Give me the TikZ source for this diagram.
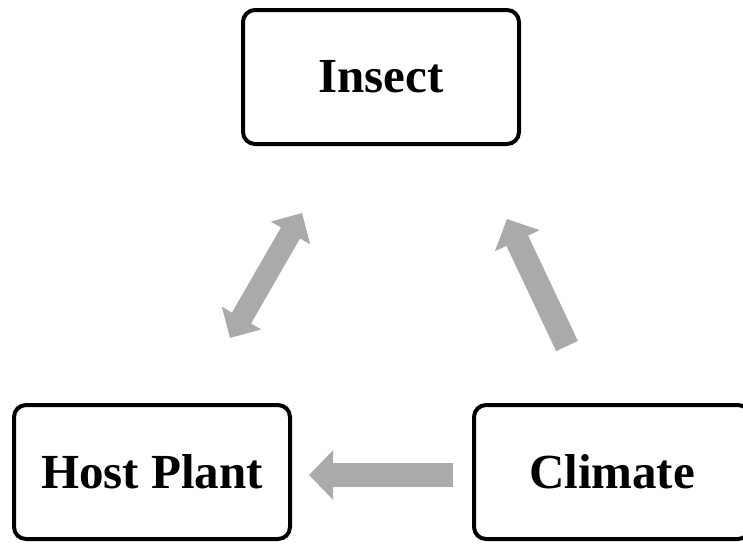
\documentclass[tikz,border=0pt]{standalone}
\usepackage{fontspec}
\setmainfont{Liberation Serif}
\usepackage{tikz}
\usetikzlibrary{arrows.meta, positioning, calc}
\definecolor{arrowgray}{RGB}{170,170,170}

\begin{document}
\begin{tikzpicture}[
      x=1pt, y=-1pt,
      factor/.style={rectangle, rounded corners=12pt, draw=black, line width=4pt, minimum width=276pt, minimum height=134pt, align=center, fill=white, font=\fontsize{49}{58}\selectfont\bfseries},
      fat/.style={draw=arrowgray, line width=24pt, -{Triangle[width=48pt, length=24pt]}},
      fatboth/.style={draw=arrowgray, line width=22pt, {Triangle[width=44pt, length=23pt]}-{Triangle[width=44pt, length=23pt]}}
    ]
    \useasboundingbox (0,0) rectangle (743,544);
    \clip (0,0) rectangle (743,544);
    % Nodes
    \node[factor] (insect) at (381,77) {Insect};
    \node[factor] (plant) at (152,472) {Host Plant};
    \node[factor] (climate) at (612,472) {Climate};

    % Arrow ends
    \coordinate (climateL) at (453,475);
    \coordinate (plantR) at (309,475);
    \coordinate (climateU) at (567,346);
    \coordinate (insectR) at (507,219);
    \coordinate (plantU) at (230,338);
    \coordinate (insectL) at (302,213);

    % Arrows
    \draw[fat] (climateL) -- (plantR);
    \draw[fat] (climateU) -- (insectR);
    \draw[fatboth] (plantU) -- (insectL);
  \end{tikzpicture}
\end{document}
